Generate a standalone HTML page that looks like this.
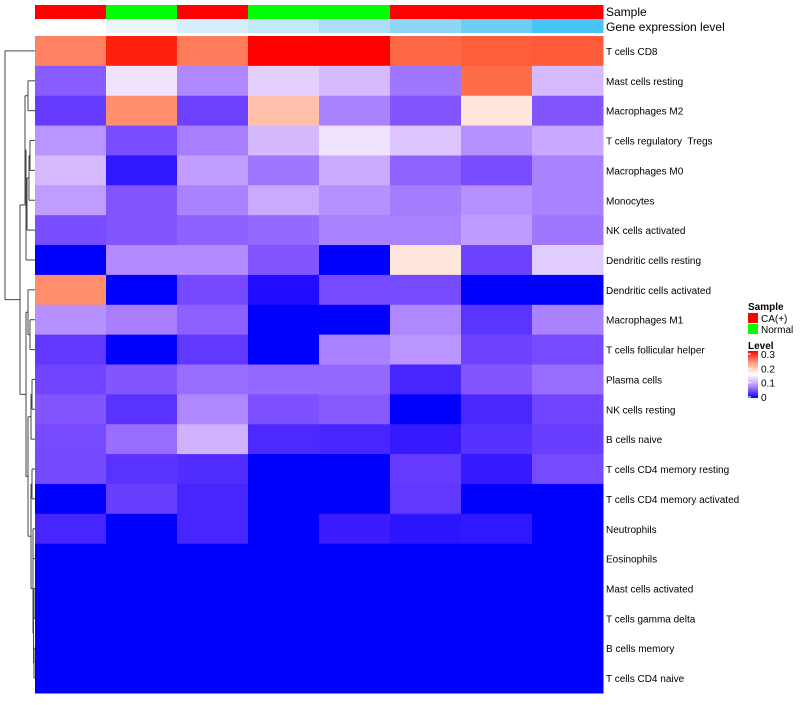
<!DOCTYPE html>
<html><head><meta charset="utf-8"><style>
body{margin:0;background:#fff;}
svg{font-family:"Liberation Sans",sans-serif;}
text{white-space:pre;}
</style></head><body>
<svg id="chart" width="800" height="700" viewBox="0 0 800 700" xmlns="http://www.w3.org/2000/svg"></svg>
<script>
const rowLabels=["T cells CD8","Mast cells resting","Macrophages M2","T cells regulatory  Tregs","Macrophages M0","Monocytes","NK cells activated","Dendritic cells resting","Dendritic cells activated","Macrophages M1","T cells follicular helper","Plasma cells","NK cells resting","B cells naive","T cells CD4 memory resting","T cells CD4 memory activated","Neutrophils","Eosinophils","Mast cells activated","T cells gamma delta","B cells memory","T cells CD4 naive"];
const sampleGroups=["CA(+)","Normal","CA(+)","Normal","Normal","CA(+)","CA(+)","CA(+)"];
const geneColors=["#ffffff","#eaf6fc","#d8eefa","#c2e8fa","#abdff9","#90d6f7","#70cef5","#49c4f6"];
const values=[
[0.245,0.295,0.25,0.3,0.3,0.262,0.268,0.27],
[0.044,0.132,0.072,0.12,0.106,0.061,0.26,0.106],
[0.024,0.237,0.028,0.2,0.068,0.04,0.17,0.04],
[0.081,0.034,0.066,0.105,0.132,0.113,0.078,0.094],
[0.106,0.006,0.088,0.061,0.095,0.049,0.034,0.068],
[0.086,0.04,0.068,0.095,0.078,0.065,0.078,0.068],
[0.034,0.04,0.048,0.052,0.068,0.068,0.085,0.061],
[0.0,0.075,0.075,0.04,0.0,0.17,0.028,0.118],
[0.237,0.0,0.032,0.003,0.033,0.033,0.0,0.0],
[0.078,0.066,0.046,0.0,0.0,0.072,0.02,0.068],
[0.022,0.0,0.022,0.0,0.068,0.081,0.028,0.033],
[0.03,0.04,0.055,0.052,0.052,0.012,0.04,0.055],
[0.04,0.019,0.072,0.037,0.043,0.0,0.013,0.03],
[0.033,0.055,0.1,0.014,0.012,0.007,0.018,0.026],
[0.032,0.019,0.016,0.0,0.0,0.024,0.007,0.033],
[0.0,0.026,0.012,0.0,0.0,0.022,0.0,0.0],
[0.012,0.0,0.012,0.0,0.008,0.005,0.006,0.0],
[0,0,0,0,0,0,0,0],[0,0,0,0,0,0,0,0],[0,0,0,0,0,0,0,0],[0,0,0,0,0,0,0,0],[0,0,0,0,0,0,0,0]];
const legendTicks=[0,0.1,0.2,0.3];

const svg=document.getElementById('chart');
const NS="http://www.w3.org/2000/svg";
const X0=35,X1=603,Y0=36,Y1=693;
const cw=(X1-X0)/8, rh=(Y1-Y0)/rowLabels.length;
const vmin=0,vmax=0.3,vmid=0.15;
function s2l(c){c/=255;return c<=0.04045?c/12.92:Math.pow((c+0.055)/1.055,2.4);}
function l2s(c){c=c<=0.0031308?12.92*c:1.055*Math.pow(c,1/2.4)-0.055;return Math.max(0,Math.min(255,Math.round(c*255)));}
const Wn=[0.95047,1,1.08883];
function f(t){return t>0.008856?Math.cbrt(t):7.787*t+16/116;}
function fi(t){return t>0.206893?t*t*t:(t-16/116)/7.787;}
function toLab(rgb){const [r,g,b]=rgb.map(s2l);
 const X=(0.4124*r+0.3576*g+0.1805*b)/Wn[0],Y=(0.2126*r+0.7152*g+0.0722*b)/Wn[1],Z=(0.0193*r+0.1192*g+0.9505*b)/Wn[2];
 return [116*f(Y)-16,500*(f(X)-f(Y)),200*(f(Y)-f(Z))];}
function fromLab(L){const fy=(L[0]+16)/116,fx=fy+L[1]/500,fz=fy-L[2]/200;
 const X=fi(fx)*Wn[0],Y=fi(fy)*Wn[1],Z=fi(fz)*Wn[2];
 const r=3.2406*X-1.5372*Y-0.4986*Z,g=-0.9689*X+1.8758*Y+0.0415*Z,b=0.0557*X-0.2040*Y+1.0570*Z;
 return [l2s(Math.max(0,r)),l2s(Math.max(0,g)),l2s(Math.max(0,b))];}
const LB=toLab([0,0,255]),LW=toLab([255,255,255]),LR=toLab([255,0,0]);
function mix(a,b,t){return a.map((v,i)=>v+(b[i]-v)*t);}
function col(v){
  let lab;
  if(v<vmid){const t=Math.max(0,(v-vmin)/(vmid-vmin));lab=mix(LB,LW,t);}
  else{const t=Math.min(1,(v-vmid)/(vmax-vmid));lab=mix(LW,LR,t);}
  const c=fromLab(lab);return `rgb(${c[0]},${c[1]},${c[2]})`;
}
function xs(j){return X0+j*cw;}
function ys(i){return Y0+i*rh;}
function mk(tag,attrs){const e=document.createElementNS(NS,tag);for(const k in attrs)e.setAttribute(k,attrs[k]);svg.appendChild(e);return e;}

sampleGroups.forEach((s,j)=>{
  const r=mk('rect',{x:xs(j),y:5,width:cw+0.5,height:14,fill:s==="Normal"?"#00ff00":"#ff0000"});
  
  
});
geneColors.forEach((c,j)=>{
  const r=mk('rect',{x:xs(j),y:19,width:cw+0.5,height:14,fill:c});
  
  
});
let t=mk('text',{x:606,y:16,"font-size":12,fill:"#000"});t.textContent="Sample";


t=mk('text',{x:606,y:31,"font-size":12,fill:"#000"});t.textContent="Gene expression level";



values.forEach((row,i)=>{
  row.forEach((v,j)=>{
    const r=mk('rect',{x:xs(j),y:ys(i),width:cw+0.5,height:rh+0.5,fill:col(v)});
    
    
  });
  const l=mk('text',{x:606,y:ys(i)+rh/2+4,"font-size":10,fill:"#000"});
  l.textContent=rowLabels[i];
  
  
});

function yc(i){return ys(i)+rh/2;}
const g=document.createElementNS(NS,'g');g.setAttribute('stroke','#444');g.setAttribute('fill','none');g.setAttribute('stroke-width','1');


svg.appendChild(g);
function seg(x1,y1,x2,y2){const p=document.createElementNS(NS,'path');p.setAttribute('d',`M${x1},${y1}L${x2},${y2}`);g.appendChild(p);}
function join(a,b,x){seg(a.x,a.y,x,a.y);seg(b.x,b.y,x,b.y);seg(x,a.y,x,b.y);return {x:x,y:(a.y+b.y)/2};}
const L=i=>({x:X0,y:yc(i)});
let n12=join(L(1),L(2),28);
let n34=join(L(3),L(4),30);
let n345=join(n34,L(5),29);
let n3456=join(n345,L(6),27);
let nE=join(n12,n3456,25);
let nB=join(nE,L(7),26);
let n9_10=join(L(9),L(10),30);
let n8=join(L(8),n9_10,28);
let n11_12=join(L(11),L(12),32);
let n13=join(n11_12,L(13),31);
let n14_15=join(L(14),L(15),32);
let n16=join(L(16),L(17),33);
let n17a=join(L(18),L(19),34);
let n17b=join(L(20),L(21),34);
let nz=join(n17a,n17b,33.5);
let nz2=join(n16,nz,33);
let nz3=join(n14_15,nz2,31);
let nq=join(n13,nz3,28);
let nC=join(n8,nq,26);
let nA=join(nB,nC,20);
join(L(0),nA,5);

function txt(x,y,s,fs,bold,name){const e=mk('text',{x:x,y:y,"font-size":fs,"font-weight":bold?"bold":"normal",fill:"#000"});e.textContent=s;return e;}
txt(748,310,"Sample",10,true,"legend-title-sample");
let lr=mk('rect',{x:748,y:313,width:10,height:10,fill:"#ff0000"});

txt(761,322,"CA(+)",10,false,"legend-entry-ca");
lr=mk('rect',{x:748,y:324,width:10,height:10,fill:"#00ff00"});

txt(761,333,"Normal",10,false,"legend-entry-normal");
txt(748,349,"Level",10,true,"legend-title-level");
const defs=mk('defs',{});
const lg=document.createElementNS(NS,'linearGradient');lg.setAttribute('id','lv');lg.setAttribute('x1','0');lg.setAttribute('y1','1');lg.setAttribute('x2','0');lg.setAttribute('y2','0');
[0,0.25,0.5,0.75,1].forEach(o=>{const st=document.createElementNS(NS,'stop');st.setAttribute('offset',(o*100)+'%');st.setAttribute('stop-color',col(vmin+o*(vmax-vmin)));lg.appendChild(st);});
defs.appendChild(lg);
const lb=mk('rect',{x:748,y:351,width:10,height:47,fill:"url(#lv)"});

legendTicks.forEach(v=>{
  const y=397-(v-vmin)/(vmax-vmin)*43;
  const tk=mk('line',{x1:748,x2:751,y1:y,y2:y,stroke:"#fff"});
  
  txt(761,y+4,String(v),10,false,"legend-tick-label");
});
</script>
</body></html>
